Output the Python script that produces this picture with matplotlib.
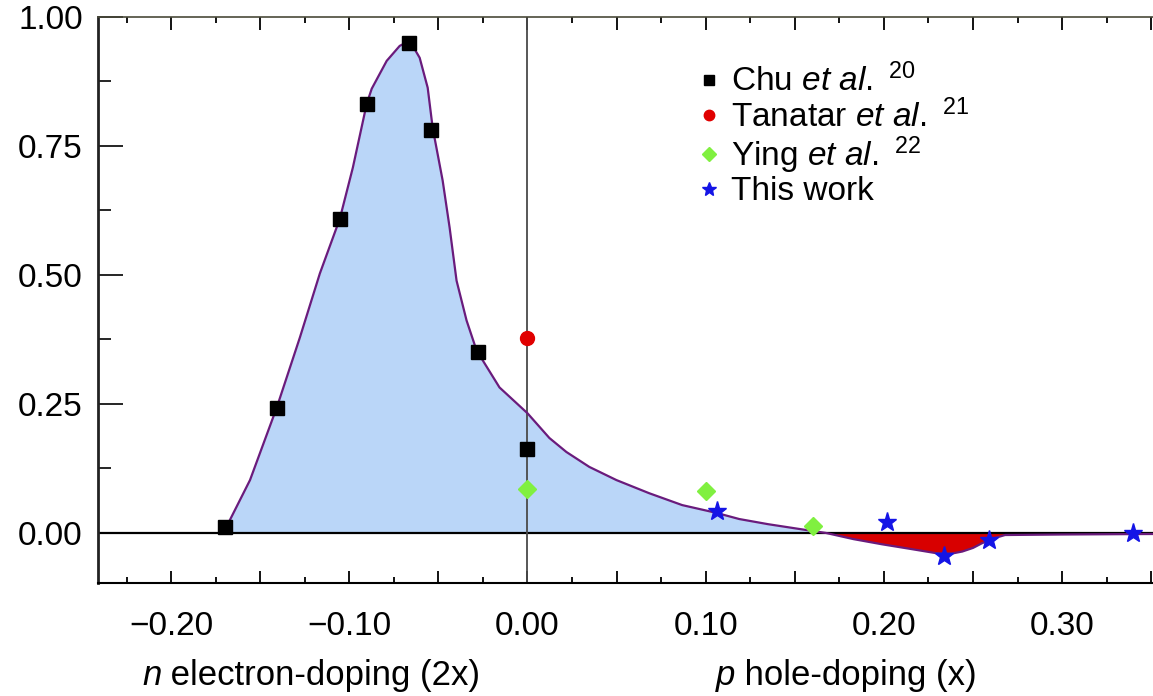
import numpy as np
import matplotlib
matplotlib.use("Agg")
from matplotlib import pyplot as plt
from matplotlib.ticker import MultipleLocator
from matplotlib.offsetbox import TextArea, HPacker, AnnotationBbox

plt.rcParams['font.family'] = ['Liberation Sans', 'DejaVu Sans']
plt.rcParams['mathtext.fontset'] = 'custom'
plt.rcParams['mathtext.rm'] = 'Liberation Sans'
plt.rcParams['mathtext.it'] = 'Liberation Sans:italic'

# traced curve (doping vs value)
curve_x = [-0.170, -0.167, -0.1557, -0.1406, -0.1277, -0.1165, -0.1053, -0.098, -0.0902,
           -0.0874, -0.079, -0.0717, -0.0661, -0.0605, -0.056, -0.0532, -0.0476, -0.0437,
           -0.0398, -0.0342, -0.0286, -0.0252, -0.0157, 0.000, 0.0123, 0.0218, 0.0347,
           0.0499, 0.0683, 0.0868, 0.1059, 0.1188, 0.135, 0.152, 0.1675, 0.183,
           0.199, 0.215, 0.229, 0.238, 0.244, 0.250, 0.255, 0.262, 0.268, 0.300, 0.352]
curve_y = [0.000, 0.025, 0.1025, 0.244, 0.379, 0.503, 0.609, 0.708, 0.832,
           0.861, 0.915, 0.944, 0.954, 0.921, 0.863, 0.785, 0.683, 0.592,
           0.489, 0.412, 0.354, 0.335, 0.282, 0.232, 0.184, 0.157, 0.128,
           0.1025, 0.077, 0.054, 0.039, 0.027, 0.017, 0.008, 0.000, -0.012,
           -0.022, -0.031, -0.039, -0.040, -0.036, -0.029, -0.020, -0.010, -0.004, -0.003, -0.002]

chu_x = [-0.170, -0.1406, -0.1053, -0.0902, -0.0667, -0.0543, -0.028, 0.0]
chu_y = [0.012, 0.242, 0.609, 0.832, 0.950, 0.781, 0.350, 0.162]
tanatar_x = [0.0]
tanatar_y = [0.377]
ying_x = [0.0, 0.10, 0.16]
ying_y = [0.085, 0.081, 0.0135]
this_x = [0.1064, 0.2017, 0.234, 0.2588, 0.340]
this_y = [0.0426, 0.021, -0.0445, -0.0135, 0.0]

fig = plt.figure(figsize=(11.53, 6.96), dpi=100)
ax = fig.add_axes([98/1153, 113/696, 1055/1153, 566/696])

cx = np.array(curve_x)
cy = np.array(curve_y)
ax.fill_between(cx, cy, 0, where=cy >= 0, interpolate=True, color='#bad6f8', lw=0, zorder=1)
ax.fill_between(cx, cy, 0, where=cy <= 0, interpolate=True, color='#d80000', lw=0, zorder=1)
ax.axhline(0, color='black', lw=1.6, zorder=2)
ax.axvline(0, color='#4a4a4a', lw=1.3, zorder=2)
ax.plot(cx, cy, color='#6a1b7c', lw=1.6, zorder=3, solid_joinstyle='round')

ax.plot(chu_x, chu_y, 's', color='black', ms=10, ls='none', zorder=4,
        label=r'Chu $\mathit{et\ al.}\ ^{20}$')
ax.plot(tanatar_x, tanatar_y, 'o', color='#e00000', ms=10, ls='none', zorder=4,
        label=r'Tanatar $\mathit{et\ al.}\ ^{21}$')
ax.plot(ying_x, ying_y, 'D', color='#80f040', ms=9, ls='none', zorder=4,
        label=r'Ying $\mathit{et\ al.}\ ^{22}$')
ax.plot(this_x, this_y, '*', color='#1414e6', ms=14, ls='none', zorder=5,
        label='This work')

ax.set_xlim(-0.241, 0.351)
ax.set_ylim(-0.097, 1.0)

ax.xaxis.set_major_locator(MultipleLocator(0.05))
ax.xaxis.set_minor_locator(MultipleLocator(0.025))
ax.xaxis.set_major_formatter(plt.FuncFormatter(
    lambda v, p: ('%.2f' % v).replace('-', '\u2212') if abs(round(v / 0.05)) % 2 == 0 else ''))
ax.yaxis.set_major_locator(MultipleLocator(0.25))
ax.yaxis.set_minor_locator(MultipleLocator(0.125))
ax.yaxis.set_major_formatter(plt.FuncFormatter(lambda v, p: '%.2f' % v))

ax.tick_params(axis='y', which='major', direction='in', length=18, width=1.2, labelsize=24, pad=11)
ax.tick_params(axis='y', which='minor', direction='in', length=9, width=1.2)
ax.tick_params(axis='x', which='major', direction='in', length=9, width=1.3, top=True,
               labelsize=24, pad=20)
ax.tick_params(axis='x', which='minor', direction='in', length=4.5, width=1.3, top=True)

ax.spines['right'].set_visible(False)
ax.spines['left'].set_linewidth(2.0)
ax.spines['left'].set_color('#222222')
ax.spines['bottom'].set_linewidth(1.5)
ax.spines['top'].set_linewidth(1.2)
ax.spines['top'].set_color('#4a4a3a')

ax.legend(loc='upper left', bbox_to_anchor=(0.57, 0.917), frameon=False, fontsize=24,
          handlelength=0.6, handletextpad=0.35, labelspacing=0.02, borderpad=0,
          markerscale=0.75, borderaxespad=0)

lab_font = dict(family=['Liberation Sans', 'DejaVu Sans'], size=25)
for parts, xc in [(('n', ' electron-doping (2x)'), 0.270), (('p', ' hole-doping (x)'), 0.734)]:
    box = HPacker(children=[TextArea(parts[0], textprops=dict(style='italic', **lab_font)),
                            TextArea(parts[1], textprops=lab_font)], sep=0, pad=0, align='baseline')
    ab = AnnotationBbox(box, (xc, 0.03), xycoords='figure fraction', frameon=False,
                        box_alignment=(0.5, 0.5), pad=0)
    fig.add_artist(ab)

fig.savefig('out.png', dpi=100)
